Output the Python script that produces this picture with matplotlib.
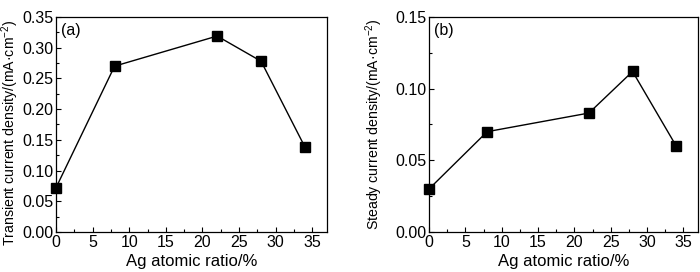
import matplotlib
matplotlib.use("Agg")
import matplotlib.pyplot as plt
from matplotlib.ticker import MultipleLocator

ag_ratio = [0, 8, 22, 28, 34]
transient = [0.072, 0.270, 0.319, 0.278, 0.138]
steady = [0.030, 0.070, 0.083, 0.112, 0.060]

plt.rcParams.update(
    {
        "font.family": ["Liberation Sans", "DejaVu Sans"],
        "font.size": 11,
        "mathtext.fontset": "custom",
        "mathtext.rm": "Liberation Sans",
        "mathtext.default": "regular",
        "axes.linewidth": 0.9,
        "xtick.direction": "in",
        "ytick.direction": "in",
    }
)


def draw_panel(ax, y, ymax, ylabel, tag, label_x, label_y):
    ax.plot(ag_ratio, y, color="black", linewidth=1.0, marker="s",
            markersize=6.5, clip_on=False, zorder=3)
    ax.set_xlim(0, 37)
    ax.set_ylim(0, ymax)
    ax.xaxis.set_major_locator(MultipleLocator(5))
    ax.xaxis.set_minor_locator(MultipleLocator(2.5))
    ax.yaxis.set_major_locator(MultipleLocator(0.05))
    ax.yaxis.set_minor_locator(MultipleLocator(0.025))
    ax.yaxis.set_major_formatter(lambda v, p: f"{v:.2f}")
    ax.tick_params(which="major", length=3.5, width=0.8, labelsize=11.5, pad=2)
    ax.tick_params(which="minor", length=2, width=0.8)
    ax.set_xlabel("Ag atomic ratio/%", fontsize=12, labelpad=3)
    ax.set_ylabel(ylabel, fontsize=10.2)
    ax.yaxis.set_label_coords(label_x, label_y)
    ax.text(0.02, 0.97, tag, transform=ax.transAxes, ha="left", va="top",
            fontsize=11.5)


fig = plt.figure(figsize=(7.0, 2.72), dpi=100)
ax_a = fig.add_axes([56 / 700, 40 / 272, 271 / 700, 215 / 272])
ax_b = fig.add_axes([429 / 700, 40 / 272, 269 / 700, 215 / 272])

draw_panel(ax_a, transient, 0.35, "Transient current density/(mA·cm$^{-2}$)", "(a)",
           -0.13, 0.46)
draw_panel(ax_b, steady, 0.15, "Steady current density/(mA·cm$^{-2}$)", "(b)",
           -0.164, 0.5)

fig.savefig("out.png", dpi=100)
